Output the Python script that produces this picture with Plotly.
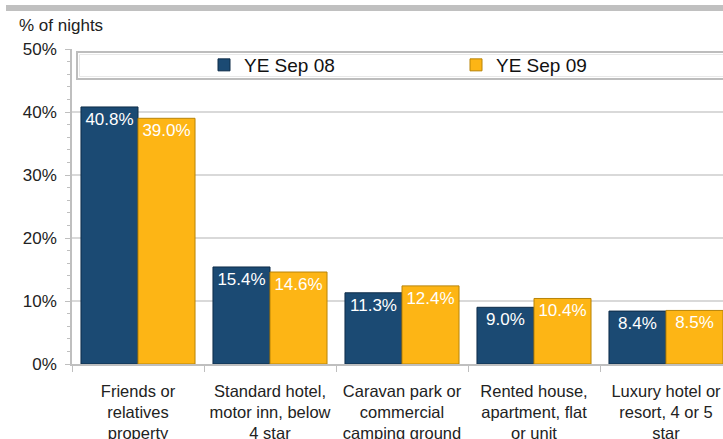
import plotly.graph_objects as go

categories = [
    "Friends or<br>relatives<br>property",
    "Standard hotel,<br>motor inn, below<br>4 star",
    "Caravan park or<br>commercial<br>camping ground",
    "Rented house,<br>apartment, flat<br>or unit",
    "Luxury hotel or<br>resort, 4 or 5<br>star",
]
series_names = ["YE Sep 08", "YE Sep 09"]
ye_sep_08 = [0.408, 0.154, 0.113, 0.090, 0.084]
ye_sep_09 = [0.390, 0.146, 0.124, 0.104, 0.085]
y_tick_vals = [0, 0.1, 0.2, 0.3, 0.4, 0.5]

W, H = 723, 439
L, R, T, B = 72, 0, 49, 75
pw, ph = W - L - R, H - T - B

def px_x(px):
    return (px - L) / pw

def px_y(py):
    return (H - B - py) / ph

label_font = dict(family="Liberation Sans Narrow, Arial Narrow, Liberation Sans, Arial", size=17, color="white")
axis_font = dict(family="Liberation Sans, Arial", size=17, color="#222222")
cat_font = dict(family="Liberation Sans, Arial", size=16.5, color="#222222")

fig = go.Figure()
fig.add_trace(go.Bar(
    x=categories, y=ye_sep_08, name=series_names[0],
    marker=dict(color="#1b4a73", line=dict(color="#0e2c48", width=1)),
    texttemplate="%{y:.1%}", textposition="inside", insidetextanchor="end",
    textfont=label_font, textangle=0, constraintext="none",
))
fig.add_trace(go.Bar(
    x=categories, y=ye_sep_09, name=series_names[1],
    marker=dict(color="#fdb515", line=dict(color="#b88408", width=1)),
    texttemplate="%{y:.1%}", textposition="inside", insidetextanchor="end",
    textfont=label_font, textangle=0, constraintext="none",
))

n_vis = pw / 132.0
fig.update_layout(
    width=W, height=H,
    margin=dict(l=L, r=R, t=T, b=B, pad=0, autoexpand=False),
    paper_bgcolor="white", plot_bgcolor="white",
    barmode="group", bargap=0.136, bargroupgap=0,
    font=axis_font,
    legend=dict(
        orientation="h", x=px_x(204), xanchor="left", y=px_y(65), yanchor="middle",
        font=dict(family="Liberation Sans, Arial", size=19, color="#111111"),
        bgcolor="rgba(0,0,0,0)", entrywidth=207, entrywidthmode="pixels",
        traceorder="normal",
    ),
    xaxis=dict(
        type="category", range=[-0.5, -0.5 + n_vis], automargin=False,
        showgrid=False, showline=True, linecolor="#bfbfbf", linewidth=1.5,
        ticks="outside", tickson="boundaries", ticklen=6, tickcolor="#bfbfbf",
        tickfont=cat_font, ticklabelstandoff=11, tickangle=0,
    ),
    yaxis=dict(
        range=[0, 0.5], tickvals=y_tick_vals, tickformat=".0%", automargin=False,
        showgrid=True, gridcolor="#d9d9d9", gridwidth=1.5,
        showline=True, linecolor="#bfbfbf", linewidth=1.5,
        ticks="outside", ticklen=5, tickcolor="#bfbfbf",
        minor=dict(dtick=0.02, ticks="outside", ticklen=3, tickcolor="#bfbfbf", showgrid=False),
        tickfont=axis_font, ticklabelstandoff=5, zeroline=False,
    ),
    shapes=[
        dict(type="rect", xref="paper", yref="paper",
             x0=px_x(6), x1=1.02, y0=px_y(11), y1=px_y(5),
             fillcolor="#c0c0c0", line=dict(width=0), layer="above"),
        dict(type="rect", xref="paper", yref="paper",
             x0=px_x(77), x1=1.05, y0=px_y(79), y1=px_y(52),
             fillcolor="rgba(0,0,0,0)", line=dict(color="#bdbdbd", width=2), layer="above"),
        dict(type="rect", xref="paper", yref="paper",
             x0=px_x(79.5), x1=1.05, y0=px_y(76.5), y1=px_y(54.5),
             fillcolor="rgba(255,255,255,1)", line=dict(color="#e8e8e8", width=1), layer="below"),
    ],
    annotations=[
        dict(text="% of nights", xref="paper", yref="paper", x=px_x(17), y=px_y(25),
             xanchor="left", yanchor="middle", showarrow=False,
             font=dict(family="Liberation Sans, Arial", size=17, color="#222222")),
    ],
)

fig.write_html(
    "out.html",
    config={"displayModeBar": False},
    post_script="document.body.style.margin='0';document.body.style.overflow='hidden';",
)
